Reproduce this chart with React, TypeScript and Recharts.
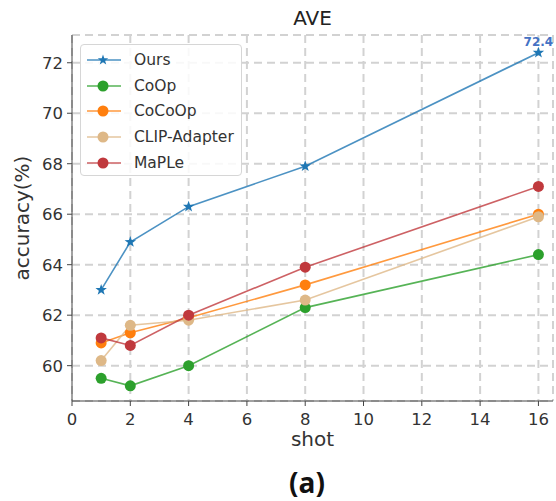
import { LineChart, Line, XAxis, YAxis, CartesianGrid } from 'recharts';

const shots = [1, 2, 4, 8, 16];
const ours = [63.0, 64.9, 66.3, 67.9, 72.4];
const coop = [59.5, 59.2, 60.0, 62.3, 64.4];
const cocoop = [60.9, 61.3, 61.9, 63.2, 66.0];
const clipAdapter = [60.2, 61.6, 61.8, 62.6, 65.9];
const maple = [61.1, 60.8, 62.0, 63.9, 67.1];

const xTicks = [0, 2, 4, 6, 8, 10, 12, 14, 16];
const yTicks = [60, 62, 64, 66, 68, 70, 72];

const series = [
  { key: 'ours', name: 'Ours', color: '#1f77b4', star: true },
  { key: 'coop', name: 'CoOp', color: '#2ca02c', star: false },
  { key: 'cocoop', name: 'CoCoOp', color: '#ff7f0e', star: false },
  { key: 'clip', name: 'CLIP-Adapter', color: '#deb887', star: false },
  { key: 'maple', name: 'MaPLe', color: '#c0393d', star: false },
];

const data = shots.map((shot, i) => ({
  shot,
  ours: ours[i],
  coop: coop[i],
  cocoop: cocoop[i],
  clip: clipAdapter[i],
  maple: maple[i],
}));

const FONT = '"DejaVu Sans", sans-serif';

const starPath = (cx: number, cy: number, r: number) => {
  const pts: string[] = [];
  for (let i = 0; i < 10; i++) {
    const rad = i % 2 === 0 ? r : r * 0.4;
    const a = -Math.PI / 2 + (i * Math.PI) / 5;
    pts.push(`${cx + rad * Math.cos(a)},${cy + rad * Math.sin(a)}`);
  }
  return `M${pts.join('L')}Z`;
};

const makeDot = (color: string, star: boolean) => (props: any) => {
  const { cx, cy, index } = props;
  if (cx == null || cy == null) return <g key={index} />;
  return star ? (
    <path key={index} d={starPath(cx, cy, 6)} fill={color} />
  ) : (
    <circle key={index} cx={cx} cy={cy} r={5.5} fill={color} />
  );
};

const LegendIcon = ({ color, star }: { color: string; star: boolean }) => (
  <svg width={36} height={14} style={{ display: 'block' }}>
    <line x1={1} y1={7} x2={35} y2={7} stroke={color} strokeWidth={1.6} strokeOpacity={0.8} />
    {star ? <path d={starPath(17, 7, 5.5)} fill={color} /> : <circle cx={17} cy={7} r={5.5} fill={color} />}
  </svg>
);

const PeakLabel = (props: any) => {
  const { x, y, value, index } = props;
  if (index !== shots.length - 1) return null;
  return (
    <text x={x} y={y - 7} textAnchor="middle" fill="#4472c4" fontSize={12} fontWeight="bold" fontFamily={FONT}>
      {value}
    </text>
  );
};

const App = () => {
  return (
    <div style={{ position: 'absolute', left: 0, top: 0, width: 556, height: 501, background: '#fff', fontFamily: FONT }}>
      <LineChart width={556} height={501} data={data} margin={{ top: 35, right: 3, bottom: 70, left: 22 }}>
        <CartesianGrid stroke="#d2d2d2" strokeWidth={2} strokeDasharray="8 5" />
        <XAxis
          dataKey="shot"
          type="number"
          domain={[0, 16.5]}
          ticks={xTicks}
          height={30}
          tickSize={5}
          tickMargin={7}
          stroke="#444"
          tick={{ fill: '#333', fontSize: 16.5, fontFamily: FONT }}
        />
        <XAxis xAxisId="top" orientation="top" type="number" domain={[0, 16.5]} height={0} tick={false} tickLine={false} stroke="#777" strokeWidth={1.5} />
        <YAxis
          type="number"
          domain={[58.6, 73.1]}
          ticks={yTicks}
          width={50}
          tickSize={5}
          tickMargin={4}
          stroke="#444"
          tick={{ fill: '#333', fontSize: 16.5, fontFamily: FONT }}
        />
        <YAxis yAxisId="right" orientation="right" domain={[58.6, 73.1]} width={0} tick={false} tickLine={false} stroke="#777" strokeWidth={1.5} />
        {series.map((s) => (
          <Line
            key={s.key}
            dataKey={s.key}
            name={s.name}
            type="linear"
            stroke={s.color}
            strokeOpacity={0.8}
            strokeWidth={1.6}
            dot={makeDot(s.color, s.star)}
            activeDot={false}
            isAnimationActive={false}
            label={s.star ? PeakLabel : undefined}
          />
        ))}
      </LineChart>

      <div style={{ position: 'absolute', left: 80, top: 44, width: 162, height: 132, border: '1px solid #d6d6d6', borderRadius: 4, background: 'rgba(255,255,255,0.85)', boxSizing: 'border-box' }}>
        {series.map((s, i) => (
          <div key={s.key} style={{ position: 'absolute', left: 5, top: 8 + i * 25.7, display: 'flex', alignItems: 'center', height: 14 }}>
            <LegendIcon color={s.color} star={s.star} />
            <span style={{ marginLeft: 12, fontSize: 15.5, color: '#333', lineHeight: '14px' }}>{s.name}</span>
          </div>
        ))}
      </div>

      <div style={{ position: 'absolute', left: 72, width: 481, top: 6, textAlign: 'center', fontSize: 20, color: '#222' }}>AVE</div>
      <div style={{ position: 'absolute', left: 72, width: 481, top: 427, textAlign: 'center', fontSize: 20, color: '#333' }}>shot</div>
      <div
        style={{
          position: 'absolute',
          left: 22,
          top: 218,
          transform: 'translate(-50%, -50%) rotate(-90deg)',
          whiteSpace: 'nowrap',
          fontSize: 20,
          color: '#333',
        }}
      >
        accuracy(%)
      </div>
      <div style={{ position: 'absolute', left: 207, width: 200, top: 463, textAlign: 'center', fontSize: 28, fontWeight: 700, fontFamily: '"Open Sans", sans-serif', color: '#111' }}>
        (a)
      </div>
    </div>
  );
};

export default App;
